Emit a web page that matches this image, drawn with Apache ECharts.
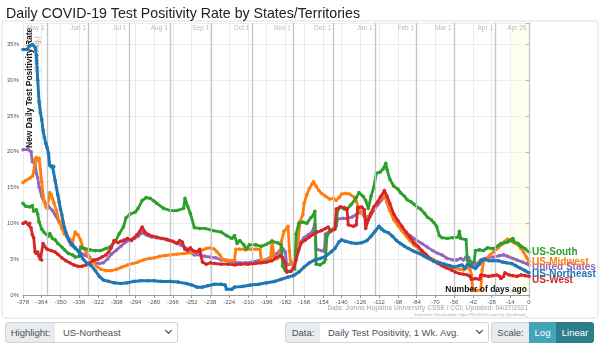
<!DOCTYPE html>
<html>
<head>
<meta charset="utf-8">
<script src="https://cdn.jsdelivr.net/npm/echarts@6/dist/echarts.min.js"></script>
<style>
  html,body{margin:0;padding:0;background:#fff;}
  #chart{position:absolute;left:0;top:0;width:600px;height:345px;}
  .box{position:absolute;top:322px;height:19px;border:1px solid #ced4da;font-family:"Liberation Sans",Arial,sans-serif;font-size:9.5px;color:#495057;line-height:19px;box-sizing:content-box;}
  .lab{background:#e9ecef;border-radius:3px 0 0 3px;text-align:center;}
  .sel{background:#fff;border-left:none;border-radius:0 3px 3px 0;padding-left:8px;}
  .chev{position:absolute;right:6px;top:5px;width:4px;height:4px;border-right:1.3px solid #333;border-bottom:1.3px solid #333;transform:rotate(45deg);}
  .btn{color:#fff;text-align:center;border:none;height:21px;line-height:21px;}
</style>
</head>
<body>
<div id="chart"></div>
<div class="box lab" style="left:5px;width:49px;">Highlight:</div>
<div class="box sel" style="left:55px;width:114px;">US-Northeast<span class="chev"></span></div>
<div class="box lab" style="left:285px;width:34px;">Data:</div>
<div class="box sel" style="left:320px;width:160px;">Daily Test Positivity, 1 Wk. Avg.<span class="chev"></span></div>
<div class="box lab" style="left:491px;width:37px;">Scale:</div>
<div class="box btn" style="left:529px;width:27px;background:#43a3b7;">Log</div>
<div class="box btn" style="left:556px;width:38px;background:#2d7e8d;border-radius:0 3px 3px 0;">Linear</div>
<script>
const FONT = '"Liberation Sans", Arial, sans-serif';

const Y_MAX = 38;
const monthDays = [-360, -329, -299, -268, -237, -207, -176, -146, -115, -84, -56, -25, 0];
const monthNames = ['May 1','Jun 1','Jul 1','Aug 1','Sep 1','Oct 1','Nov 1','Dec 1','Jan 1','Feb 1','Mar 1','Apr 1','Apr 26'];

const southData = [[-378,12.8],[-376,12.4],[-373,12.3],[-371,12.5],[-370,11.7],[-368,11.9],[-367,11.3],[-366,10.2],[-364,9.2],[-362,8.7],[-359,8.2],[-358,8.6],[-356,7.9],[-354,7.7],[-352,7.2],[-349,6.7],[-347,6.3],[-344,5.8],[-341,5.6],[-339,5.3],[-336,5.4],[-335,6.7],[-332,6.5],[-328,6.3],[-324,6.2],[-320,6.2],[-316,6.5],[-313,6.7],[-309,7.5],[-306,8.6],[-303,9.5],[-301,10.8],[-298,11.3],[-294,11.6],[-292,12.1],[-289,13.2],[-286,13.6],[-283,13.5],[-280,13.1],[-278,12.8],[-273,12.1],[-268,11.8],[-263,11.8],[-258,12.1],[-257,13.5],[-255,12.4],[-253,11.4],[-250,9.4],[-246,9.3],[-242,9.3],[-236,9.0],[-230,8.8],[-226,8.3],[-222,7.9],[-220,8.3],[-218,7.2],[-216,7.6],[-213,7.0],[-211,6.4],[-209,7.0],[-204,7.0],[-200,6.8],[-196,7.1],[-192,7.5],[-188,7.3],[-185,7.0],[-184,4.0],[-182,3.4],[-178,3.3],[-175,3.6],[-174,8.5],[-172,10.0],[-169,10.2],[-166,10.0],[-163,10.8],[-161,11.2],[-160,11.7],[-159,4.3],[-156,4.2],[-153,4.6],[-152,5.0],[-151,8.2],[-149,8.8],[-146,9.3],[-144,9.8],[-143,11.8],[-141,12.3],[-138,12.0],[-136,12.0],[-133,12.6],[-129,13.6],[-127,14.3],[-124,13.8],[-122,13.2],[-120,12.1],[-118,13.8],[-116,15.0],[-114,17.0],[-111,17.2],[-109,17.6],[-107,18.4],[-106,17.5],[-104,16.2],[-101,15.2],[-98,14.8],[-96,14.3],[-93,13.8],[-91,13.3],[-88,13.0],[-86,12.7],[-83,12.2],[-81,12.0],[-78,11.4],[-76,10.9],[-73,10.5],[-71,10.1],[-69,9.6],[-67,8.3],[-65,8.0],[-61,7.9],[-57,8.0],[-53,8.1],[-52,8.9],[-51,7.9],[-47,7.7],[-46,4.8],[-44,4.6],[-41,4.6],[-40,6.2],[-37,6.3],[-34,6.2],[-31,6.6],[-28,6.5],[-26,6.5],[-23,6.9],[-21,7.2],[-18,7.3],[-16,7.4],[-14,7.6],[-12,7.9],[-11,7.4],[-8,7.2],[-6,6.8],[-3,6.5],[0,6.0]];

const midwestData = [[-378,15.7],[-376,16.0],[-373,16.3],[-371,16.6],[-370,17.2],[-369,19.0],[-368,19.2],[-367,18.8],[-366,19.1],[-365,17.5],[-364,15.8],[-363,13.9],[-362,13.0],[-361,12.4],[-360,12.1],[-359,13.3],[-358,14.3],[-357,14.0],[-356,13.5],[-355,12.9],[-353,11.8],[-351,10.3],[-349,9.3],[-347,8.5],[-345,8.2],[-343,7.8],[-341,7.3],[-339,8.8],[-337,8.4],[-335,7.7],[-333,6.5],[-331,6.1],[-329,5.5],[-326,4.7],[-323,4.0],[-320,3.6],[-316,3.4],[-312,3.4],[-308,3.6],[-304,3.9],[-300,4.2],[-296,4.4],[-292,4.6],[-288,4.9],[-284,5.1],[-280,5.2],[-276,5.4],[-272,5.5],[-268,5.6],[-263,5.7],[-258,5.8],[-253,5.9],[-249,6.0],[-245,6.2],[-241,6.5],[-238,6.6],[-235,6.4],[-233,6.0],[-231,5.6],[-229,5.0],[-226,4.9],[-222,4.8],[-220,4.9],[-219,6.4],[-216,6.4],[-213,6.4],[-212,6.3],[-208,6.4],[-204,6.4],[-201,6.4],[-200,4.7],[-196,4.9],[-193,5.2],[-192,7.6],[-191,7.4],[-190,5.0],[-188,5.1],[-186,5.4],[-185,7.5],[-183,8.9],[-181,9.3],[-180,9.6],[-179,6.2],[-178,4.3],[-175,4.3],[-174,5.4],[-173,6.5],[-171,10.3],[-169,11.2],[-168,12.8],[-166,14.0],[-164,14.9],[-162,15.5],[-161,15.8],[-159,15.2],[-157,14.6],[-155,14.2],[-152,13.8],[-149,13.4],[-146,13.5],[-144,13.2],[-142,13.6],[-140,14.1],[-137,14.2],[-134,14.1],[-131,13.7],[-129,13.1],[-127,12.0],[-125,11.4],[-122,10.9],[-120,11.0],[-118,11.5],[-116,12.2],[-113,13.0],[-111,13.4],[-108,13.9],[-106,13.0],[-104,11.8],[-101,10.5],[-98,9.7],[-95,9.0],[-92,8.3],[-89,7.6],[-86,7.0],[-83,6.5],[-80,6.0],[-76,5.4],[-72,5.0],[-68,4.6],[-64,4.3],[-60,4.0],[-56,3.8],[-52,3.6],[-49,3.5],[-47,3.7],[-45,3.9],[-44,3.5],[-43,2.8],[-42,0.7],[-39,0.6],[-36,0.7],[-35,3.5],[-34,4.6],[-32,5.0],[-29,5.6],[-26,6.1],[-23,6.6],[-20,7.1],[-18,7.5],[-16,7.8],[-14,7.7],[-12,7.4],[-10,7.2],[-8,7.0],[-6,6.5],[-4,6.0],[-2,5.3],[0,4.7]];

const usData = [[-378,20.3],[-374,20.3],[-372,20.0],[-371,18.6],[-369,18.4],[-368,17.0],[-367,16.4],[-366,15.1],[-364,13.8],[-362,13.0],[-359,12.4],[-356,11.8],[-354,11.2],[-351,10.2],[-348,9.3],[-346,8.4],[-344,7.7],[-342,7.0],[-339,6.5],[-336,6.0],[-332,5.6],[-328,5.2],[-325,4.6],[-321,4.4],[-318,4.5],[-315,5.0],[-312,5.7],[-308,6.3],[-305,6.8],[-302,7.3],[-298,7.7],[-295,7.9],[-292,8.2],[-289,8.7],[-286,8.4],[-282,8.1],[-278,8.1],[-275,7.9],[-271,7.8],[-268,7.6],[-264,7.3],[-260,7.0],[-256,6.5],[-253,6.0],[-250,5.6],[-246,5.6],[-242,5.4],[-238,5.3],[-234,5.2],[-230,4.9],[-226,4.8],[-221,4.6],[-216,4.5],[-212,4.5],[-207,4.6],[-202,4.8],[-197,4.9],[-193,5.3],[-189,5.7],[-186,6.2],[-184,6.5],[-182,6.0],[-181,4.2],[-178,4.3],[-175,4.9],[-173,6.3],[-171,7.3],[-168,8.0],[-165,8.4],[-162,8.8],[-160,9.9],[-159,6.4],[-155,6.2],[-153,6.1],[-152,8.5],[-149,8.9],[-146,9.2],[-144,9.6],[-143,10.6],[-139,10.7],[-136,10.7],[-132,10.9],[-128,11.4],[-125,11.6],[-123,11.0],[-121,10.5],[-119,10.9],[-116,11.8],[-113,12.6],[-110,13.3],[-108,14.0],[-106,12.9],[-104,11.8],[-101,10.9],[-98,10.0],[-95,9.4],[-92,8.8],[-89,8.3],[-86,7.9],[-83,7.5],[-80,7.2],[-76,6.7],[-72,6.2],[-68,5.8],[-65,5.6],[-61,5.1],[-57,4.9],[-54,4.9],[-51,5.1],[-49,4.9],[-47,5.3],[-45,5.2],[-43,4.4],[-40,4.2],[-38,4.5],[-36,4.9],[-33,5.1],[-30,5.3],[-26,5.3],[-22,5.5],[-19,5.6],[-16,5.4],[-12,5.1],[-9,4.9],[-5,4.6],[-2,4.4],[0,4.2]];

const northeastData = [[-378,34.3],[-375,34.3],[-373,34.8],[-371,35.0],[-369,34.6],[-368,33.5],[-367,30.0],[-366,27.0],[-365,25.5],[-364,24.5],[-363,23.0],[-362,22.0],[-361,21.2],[-360,20.6],[-359,19.8],[-358,18.1],[-357,17.9],[-356,18.0],[-355,17.9],[-354,16.0],[-353,15.0],[-352,14.0],[-351,13.0],[-350,12.0],[-349,11.2],[-348,10.2],[-347,9.4],[-346,8.8],[-345,8.2],[-343,7.4],[-341,7.0],[-339,6.6],[-337,6.2],[-335,5.6],[-333,5.0],[-330,4.4],[-327,4.1],[-324,3.4],[-321,2.6],[-318,2.1],[-314,1.9],[-310,1.7],[-305,1.6],[-300,1.7],[-295,1.9],[-290,2.0],[-285,2.0],[-280,2.0],[-275,1.9],[-268,1.9],[-262,1.8],[-256,1.6],[-252,1.4],[-248,1.1],[-244,1.1],[-240,1.3],[-235,1.5],[-230,1.5],[-227,1.4],[-226,0.8],[-222,0.8],[-220,1.1],[-214,1.2],[-208,1.4],[-202,1.5],[-196,1.7],[-190,1.9],[-185,2.2],[-180,2.5],[-176,2.7],[-172,3.2],[-168,3.9],[-164,4.5],[-160,4.9],[-156,5.1],[-152,5.4],[-148,6.0],[-145,6.5],[-142,7.4],[-140,7.7],[-137,7.5],[-133,7.3],[-129,7.2],[-125,7.3],[-121,7.6],[-118,8.2],[-115,8.9],[-112,9.6],[-110,9.2],[-108,8.9],[-105,8.7],[-102,8.2],[-99,7.6],[-96,7.2],[-93,6.8],[-90,6.5],[-86,6.1],[-82,5.8],[-78,5.4],[-75,5.1],[-71,4.7],[-67,4.5],[-63,4.3],[-59,4.1],[-56,3.9],[-52,4.1],[-50,4.2],[-48,3.7],[-46,4.3],[-43,4.0],[-40,3.7],[-37,4.3],[-35,4.9],[-33,5.0],[-30,4.8],[-27,4.8],[-23,4.8],[-20,4.6],[-17,4.5],[-13,4.4],[-10,4.1],[-7,3.8],[-3,3.4],[0,3.1]];

const westData = [[-378,10.0],[-376,10.2],[-374,9.8],[-373,10.0],[-372,9.4],[-371,8.4],[-370,8.0],[-369,6.0],[-368,5.8],[-367,6.0],[-366,5.4],[-365,5.0],[-364,4.9],[-363,7.2],[-362,6.8],[-360,6.4],[-357,6.2],[-354,6.0],[-352,5.7],[-349,5.2],[-346,4.8],[-343,4.5],[-340,4.2],[-337,4.0],[-334,4.0],[-331,4.2],[-328,4.5],[-325,4.9],[-322,5.0],[-319,5.3],[-316,5.6],[-314,6.0],[-312,6.6],[-310,7.6],[-307,7.3],[-305,7.5],[-302,7.7],[-300,7.9],[-297,7.6],[-295,8.0],[-293,8.4],[-291,8.8],[-289,9.5],[-287,8.8],[-284,8.4],[-281,8.2],[-278,8.0],[-274,7.9],[-270,7.7],[-266,7.5],[-263,7.2],[-261,7.6],[-259,7.4],[-257,6.4],[-255,6.2],[-253,6.6],[-251,6.2],[-248,6.0],[-246,6.4],[-244,4.6],[-241,4.3],[-238,4.5],[-235,4.4],[-230,4.3],[-225,4.3],[-220,4.2],[-215,4.3],[-210,4.3],[-205,4.4],[-200,4.5],[-196,4.6],[-192,4.8],[-189,5.2],[-186,5.5],[-184,5.2],[-182,4.4],[-181,3.2],[-178,3.3],[-176,3.8],[-174,4.9],[-172,6.3],[-170,7.3],[-167,7.7],[-164,8.1],[-161,8.5],[-158,8.8],[-155,9.0],[-152,9.3],[-150,9.5],[-148,8.9],[-145,9.2],[-144,12.0],[-141,12.3],[-138,12.2],[-136,12.0],[-135,9.8],[-131,9.6],[-129,9.8],[-128,12.2],[-125,12.3],[-123,11.9],[-122,9.3],[-120,10.5],[-118,11.4],[-116,12.3],[-113,13.0],[-111,13.7],[-108,14.6],[-106,13.8],[-104,12.8],[-101,11.3],[-98,10.4],[-95,9.6],[-92,8.8],[-89,8.1],[-86,7.3],[-83,6.8],[-80,6.2],[-77,5.7],[-74,5.1],[-71,4.7],[-68,4.4],[-65,4.1],[-62,3.8],[-58,3.5],[-55,3.2],[-52,3.0],[-49,2.9],[-46,2.8],[-44,2.6],[-43,2.2],[-40,2.3],[-37,2.2],[-36,2.8],[-33,2.7],[-30,2.6],[-27,2.7],[-24,2.8],[-22,2.6],[-21,2.3],[-19,2.6],[-18,3.1],[-15,2.8],[-12,2.7],[-9,2.6],[-6,2.8],[-3,2.7],[0,2.6]];

const chart = echarts.init(document.getElementById('chart'));

function mk(name, data, color, dy, z, w) {
  return {
    name: name, type: 'line', data: data, z: z,
    lineStyle: {color: color, width: w}, itemStyle: {color: color},
    symbol: 'circle', symbolSize: 3.6, showSymbol: true,
    endLabel: {show: true, formatter: '{a}', color: color, fontWeight: 'bold', fontSize: 10,
      fontFamily: FONT, offset: [0, dy], distance: 3},
    emphasis: {disabled: true}, silent: true, animation: false
  };
}

const option = {
  animation: false,
  textStyle: {fontFamily: FONT},
  title: {text: 'Daily COVID-19 Test Positivity Rate by States/Territories', left: 1, top: 2,
    textStyle: {fontSize: 14.2, fontWeight: 'normal', color: '#222', fontFamily: FONT}},
  graphic: [
    {type: 'rect', shape: {x: 2, y: 21, width: 596, height: 297, r: 3}, style: {fill: 'none', stroke: '#dedede', lineWidth: 1}, z: -10},
    {type: 'text', x: 30, y: 148, rotation: Math.PI / 2, z: 0,
      style: {text: 'New Daily Test Positivity Rate', font: 'bold 8.5px ' + FONT, fill: '#111', textVerticalAlign: 'middle'}},
    {type: 'text', x: 37, y: 72, rotation: Math.PI / 2, z: 0,
      style: {text: '(1 Wk. Avg.)', font: '6.5px ' + FONT, fill: '#999', textVerticalAlign: 'middle'}},
    {type: 'text', right: 73, top: 285, z: 100,
      style: {text: 'Number of days ago', font: 'bold 8.5px ' + FONT, fill: '#111'}},
    {type: 'text', right: 72, top: 305, z: 100,
      style: {text: 'Data: Johns Hopkins University CSSE / CCI; Updated: 04/27/2021', font: 'bold 6.5px ' + FONT, fill: '#bbb'}},
    {type: 'text', right: 72, top: 313, z: 100,
      style: {text: 'Interactive Visualization: https://91-DIVOC.com/ by @profwade_', font: '4px ' + FONT, fill: '#aaa'}}
  ],
  grid: {left: 23, right: 71, top: 23, bottom: 50, containLabel: false},
  xAxis: {
    type: 'value', min: -378, max: 0, interval: 14,
    axisLine: {show: true, lineStyle: {color: '#999'}},
    axisTick: {show: true, length: 3, lineStyle: {color: '#999'}},
    axisLabel: {fontSize: 6, color: '#555', margin: 4, fontFamily: FONT, showMinLabel: true, showMaxLabel: true, hideOverlap: false},
    splitLine: {show: true, lineStyle: {color: '#ebebf2', width: 1}}
  },
  yAxis: {
    type: 'value', min: 0, max: Y_MAX, interval: 5,
    axisLine: {show: true, lineStyle: {color: '#999'}},
    axisTick: {show: true, length: 3, lineStyle: {color: '#999'}},
    axisLabel: {fontSize: 6, color: '#555', margin: 4, fontFamily: FONT,
      formatter: function (v) { return v % 5 === 0 ? v + '%' : ''; }},
    splitLine: {show: true, lineStyle: {color: '#ebebf2', width: 1}}
  },
  series: [
    {name: 'marks', type: 'line', data: [], z: 1, silent: true,
      markLine: {silent: true, symbol: 'none', label: {show: false},
        lineStyle: {color: '#c4c4c4', width: 1.3, type: 'solid'},
        data: monthDays.map(function (d) { return {xAxis: d}; })},
      markArea: {silent: true, itemStyle: {color: 'rgba(250,250,205,0.28)'},
        data: [[{xAxis: -14}, {xAxis: 0}]]}},
    {name: 'months', type: 'scatter', z: 20, silent: true, clip: false, symbolSize: 0,
      data: monthDays.map(function (d) { return [d, Y_MAX]; }),
      label: {show: true, position: 'left', distance: 2.5, offset: [0, 5.5], fontSize: 6.5, color: '#aaa', fontFamily: FONT,
        formatter: function (p) { return monthNames[p.dataIndex]; }}},
    mk('United States', usData, '#9467bd', 2.5, 2, 2.8),
    mk('US-Midwest', midwestData, '#ff7f0e', 0.5, 3, 2.8),
    mk('US-South', southData, '#2ca02c', 0, 4, 2.8),
    mk('US-West', westData, '#d62728', 3.5, 5, 2.8),
    mk('US-Northeast', northeastData, '#1f77b4', 1, 6, 3)
  ]
};
chart.setOption(option);
</script>
</body>
</html>
